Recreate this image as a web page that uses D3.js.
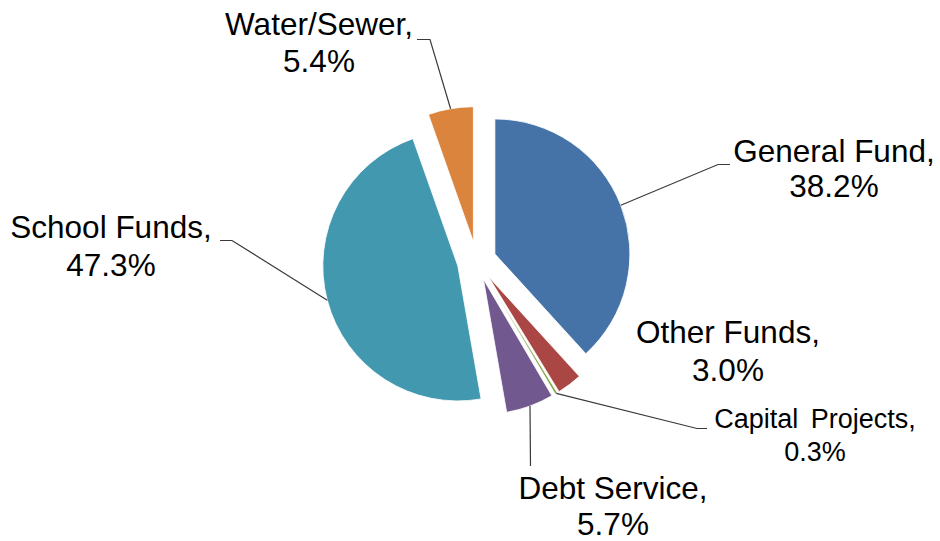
<!DOCTYPE html>
<html>
<head>
<meta charset="utf-8">
<script src="https://cdn.jsdelivr.net/npm/d3@7"></script>
<style>
  html, body { margin: 0; padding: 0; background: #fff; }
  svg { display: block; }
  text { font-family: "Liberation Sans", Arial, sans-serif; fill: #000; }
</style>
</head>
<body>
<svg id="chart" width="940" height="541"></svg>
<script>
// Fund shares, clockwise from 12 o'clock
const categories = ["General Fund", "Other Funds", "Capital Projects", "Debt Service", "School Funds", "Water/Sewer"];
const shares = [38.2, 3.0, 0.3, 5.7, 47.3, 5.4];
const sliceColors = ["#4572A7", "#AA4643", "#89A54E", "#71588F", "#4198AF", "#DB843D"];

// Label layout: text centre, baseline of first line, line gap, font size, word spacing, leader elbow
const labelLayout = {
  "General Fund":     { x: 834, y: 162, gap: 35, size: 31.5, ws: 0, elbow: [[718, 164.5], [730, 164.5]] },
  "Other Funds":      { x: 728, y: 343, gap: 38, size: 31.5, ws: 0, elbow: null },
  "Capital Projects": { x: 815, y: 428, gap: 33, size: 27,   ws: 5, elbow: [[697, 428.5], [707, 428.5]] },
  "Debt Service":     { x: 613, y: 499, gap: 36, size: 31.5, ws: 0, elbow: [[530.5, 466]] },
  "School Funds":     { x: 111, y: 238, gap: 38, size: 31.5, ws: 0, elbow: [[232, 240.5], [220, 240.5]] },
  "Water/Sewer":      { x: 319, y: 35,  gap: 37, size: 31.5, ws: 0, elbow: [[430, 39.5], [417, 39.5]] }
};

const data = categories.map((c, i) => ({ name: c, value: shares[i], color: sliceColors[i] }));

const svg = d3.select("#chart");
const cx = 476.7, cy = 261, radius = 135, explode = 19.5;

const pie = d3.pie().sort(null).value(d => d.value);
const arcs = pie(data);
const arc = d3.arc().innerRadius(0).outerRadius(radius);

const g = svg.append("g").attr("transform", `translate(${cx},${cy})`);

function offset(a) {
  const m = (a.startAngle + a.endAngle) / 2;
  return [Math.sin(m) * explode, -Math.cos(m) * explode];
}

g.selectAll("path.slice")
  .data(arcs)
  .join("path")
  .attr("class", "slice")
  .attr("d", arc)
  .attr("transform", d => { const o = offset(d); return `translate(${o[0]},${o[1]})`; })
  .attr("fill", d => d.data.color)
  .attr("stroke", "#fff")
  .attr("stroke-width", 0.8);

// Leader lines from the outer arc midpoint to the label
const line = d3.line();
arcs.forEach(a => {
  const lay = labelLayout[a.data.name];
  if (!lay.elbow) return;
  const m = (a.startAngle + a.endAngle) / 2;
  const o = offset(a);
  const p0 = [cx + o[0] + Math.sin(m) * radius, cy + o[1] - Math.cos(m) * radius];
  svg.append("path")
    .attr("d", line([p0, ...lay.elbow]))
    .attr("fill", "none")
    .attr("stroke", "#3a3a3a")
    .attr("stroke-width", 1.2);
});

// Category and percentage labels
arcs.forEach(a => {
  const lay = labelLayout[a.data.name];
  const t = svg.append("text")
    .attr("text-anchor", "middle")
    .attr("font-size", lay.size)
    .attr("word-spacing", lay.ws);
  t.append("tspan").attr("x", lay.x).attr("y", lay.y).text(a.data.name + ",");
  t.append("tspan").attr("x", lay.x).attr("y", lay.y + lay.gap).text(d3.format(".1f")(a.data.value) + "%");
});
</script>
</body>
</html>
